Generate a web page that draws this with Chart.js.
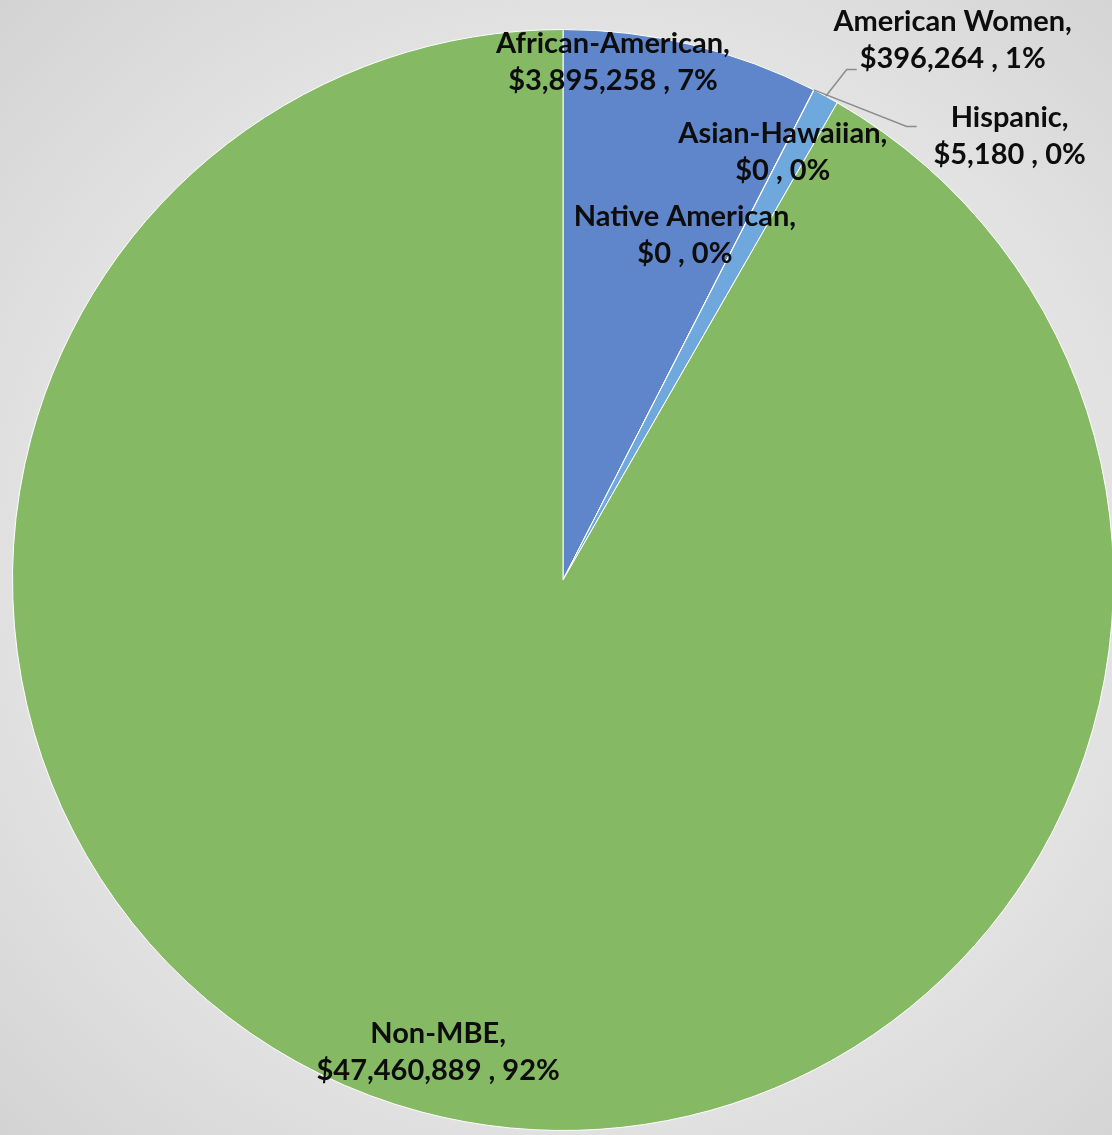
<!DOCTYPE html>
<html>
<head>
<meta charset="utf-8">
<script src="https://cdn.jsdelivr.net/npm/chart.js@4"></script>
<style>
  html, body {
    margin: 0;
    padding: 0;
    width: 1112px;
    height: 1135px;
    overflow: hidden;
    background: radial-gradient(farthest-corner at 52% 50%, #f3f3f3 0%, #ececec 45%, #d3d3d3 100%);
  }
  #mbePie {
    position: absolute;
    left: 0;
    top: 0;
  }
</style>
</head>
<body>
<canvas id="mbePie" width="1120" height="1135"></canvas>
<script>
const categories = ["African-American", "Hispanic", "American Women", "Asian-Hawaiian", "Native American", "Non-MBE"];
const amounts = [3895258, 5180, 396264, 0, 0, 47460889];
const pctLabels = ["7%", "0%", "1%", "0%", "0%", "92%"];
const sliceColors = ["#5f86cb", "#5f86cb", "#6fa8dc", "#6fa8dc", "#6fa8dc", "#86b964"];

// where each label block sits, measured from the pie centre at radius 551
const labelSpots = [
    { dx: 50, dy: -518 },
    { dx: 447, dy: -444, elbow: [344, -454], end: [354, -454], from: "start" },
    { dx: 390, dy: -540, elbow: [284, -511], end: [294, -511], from: "mid" },
    { dx: 220, dy: -428 },
    { dx: 122, dy: -345 },
    { dx: -125, dy: 473 },
];

function money(v) {
    return "$" + v.toLocaleString("en-US");
}

const sliceLabels = {
    id: "sliceLabels",
    afterDatasetsDraw(chart) {
        const ctx = chart.ctx;
        const arcs = chart.getDatasetMeta(0).data;
        ctx.save();
        arcs.forEach((arc, i) => {
            const spot = labelSpots[i];
            const k = arc.outerRadius / 551;
            if (spot.elbow) {
                const a = spot.from === "start" ? arc.startAngle : (arc.startAngle + arc.endAngle) / 2;
                const px = arc.x + Math.cos(a) * arc.outerRadius;
                const py = arc.y + Math.sin(a) * arc.outerRadius;
                ctx.beginPath();
                ctx.moveTo(px, py);
                ctx.lineTo(arc.x + spot.elbow[0] * k, arc.y + spot.elbow[1] * k);
                ctx.lineTo(arc.x + spot.end[0] * k, arc.y + spot.end[1] * k);
                ctx.strokeStyle = "#8c8c8c";
                ctx.lineWidth = 1.5;
                ctx.stroke();
            }
            const cx = arc.x + spot.dx * k;
            const cy = arc.y + spot.dy * k;
            ctx.fillStyle = "#0d0d0d";
            ctx.font = "bold 29px Lato";
            ctx.textAlign = "center";
            ctx.textBaseline = "middle";
            ctx.fillText(categories[i] + ",", cx, cy - 18.5);
            ctx.fillText(money(amounts[i]) + " , " + pctLabels[i], cx, cy + 18.5);
        });
        ctx.restore();
    },
};

window.onload = function () {
    const ctx = document.getElementById("mbePie").getContext("2d");
    window.mbeChart = new Chart(ctx, {
        type: "pie",
        data: {
            labels: categories,
            datasets: [
                {
                    data: amounts,
                    backgroundColor: sliceColors,
                    borderColor: "#ffffff",
                    borderWidth: 1,
                },
            ],
        },
        options: {
            responsive: false,
            animation: false,
            layout: {
                padding: { left: 12, right: 6, top: 29, bottom: 4 },
            },
            plugins: {
                legend: { display: false },
                tooltip: { enabled: false },
            },
        },
        plugins: [sliceLabels],
    });
};
</script>
</body>
</html>
